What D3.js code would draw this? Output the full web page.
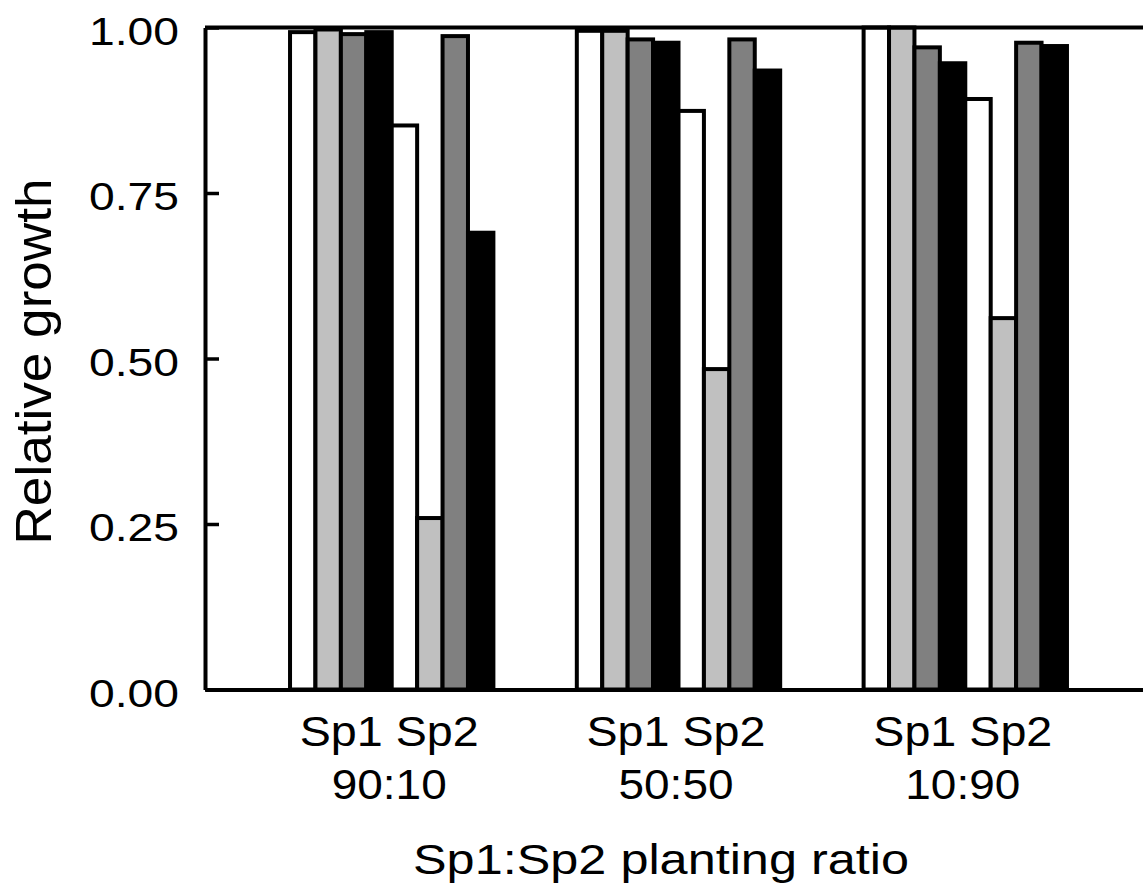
<!DOCTYPE html>
<html>
<head>
<meta charset="utf-8">
<script src="https://cdn.jsdelivr.net/npm/d3@7"></script>
<style>
  body { margin: 0; background: #fff; }
  text { font-family: "Liberation Sans", Arial, sans-serif; fill: #000; }
</style>
</head>
<body>
<svg id="barChart"></svg>
<script>
// Relative growth by planting ratio - grouped bars, 4 treatments per species

const ratioLabels = ["90:10", "50:50", "10:90"];
const speciesLabels = ["Sp1", "Sp2"];
// one row per ratio, 4 treatments per species
const sp1Growth = [
    [0.993, 0.997, 0.990, 0.993],
    [0.995, 0.995, 0.982, 0.977],
    [1.000, 1.000, 0.970, 0.946]
];
const sp2Growth = [
    [0.852, 0.259, 0.987, 0.690],
    [0.874, 0.484, 0.982, 0.935],
    [0.892, 0.561, 0.977, 0.972]
];
const yTicks = [0, 0.25, 0.5, 0.75, 1];

const treatmentFills = ["#ffffff", "#c0c0c0", "#808080", "#000000"];

const width = 1143;
const height = 894;

const svg = d3.select("#barChart")
    .attr("width", width)
    .attr("height", height);

const yAxis = d3.scaleLinear()
    .domain([0, 1])
    .range([689.5, 27.5]);

const xGroup = d3.scaleBand()
    .domain(ratioLabels)
    .range([205, 1152])
    .paddingInner(0.2909)
    .paddingOuter(0.2965);

const xBar = d3.scaleBand()
    .domain(d3.range(8))
    .range([0, xGroup.bandwidth()])
    .padding(0);

// flatten to one record per bar
const bars = [];
ratioLabels.forEach((r, i) => {
    sp1Growth[i].forEach((v, t) => bars.push({ratio: r, idx: t, treatment: t, value: v}));
    sp2Growth[i].forEach((v, t) => bars.push({ratio: r, idx: 4 + t, treatment: t, value: v}));
});

svg.append("g")
    .selectAll("rect")
    .data(bars)
    .join("rect")
        .attr("x", d => xGroup(d.ratio) + xBar(d.idx))
        .attr("y", d => yAxis(d.value))
        .attr("width", xBar.bandwidth())
        .attr("height", d => yAxis(0) - yAxis(d.value))
        .style("fill", d => treatmentFills[d.treatment])
        .style("stroke", "#000")
        .style("stroke-width", 4);

// top border
svg.append("line")
    .attr("x1", 205)
    .attr("x2", width)
    .attr("y1", yAxis(1))
    .attr("y2", yAxis(1))
    .style("stroke", "#000")
    .style("stroke-width", 4);

// y axis, ticks pointing inward
const yG = svg.append("g")
    .attr("transform", "translate(205,0)")
    .call(d3.axisLeft(yAxis)
        .tickValues(yTicks)
        .tickFormat(d3.format(".2f"))
        .tickSizeInner(-14)
        .tickSizeOuter(0)
        .tickPadding(26));
yG.select(".domain").style("stroke-width", 4);
yG.selectAll(".tick line").style("stroke-width", 3.5);
yG.selectAll(".tick text")
    .attr("dy", 16.5)
    .attr("textLength", 90)
    .attr("lengthAdjust", "spacingAndGlyphs")
    .style("font-size", "38px")
    .style("font-family", "Liberation Sans, Arial, sans-serif");

// x axis with two-line group labels
const xG = svg.append("g")
    .attr("transform", "translate(0," + yAxis(0) + ")")
    .call(d3.axisBottom(xGroup).tickSize(0).tickSizeOuter(0));
xG.select(".domain").style("stroke-width", 4);
xG.selectAll(".tick text").remove();
xG.selectAll(".tick").append("text")
    .attr("x", -2.5)
    .attr("y", 746 - yAxis(0))
    .attr("text-anchor", "middle")
    .attr("textLength", 179)
    .attr("lengthAdjust", "spacingAndGlyphs")
    .style("font-size", "43px")
    .style("font-family", "Liberation Sans, Arial, sans-serif")
    .text(speciesLabels.join(" "));
xG.selectAll(".tick").append("text")
    .attr("x", -2.5)
    .attr("y", 799 - yAxis(0))
    .attr("text-anchor", "middle")
    .attr("textLength", 115)
    .attr("lengthAdjust", "spacingAndGlyphs")
    .style("font-size", "43px")
    .style("font-family", "Liberation Sans, Arial, sans-serif")
    .text(d => d);

// X-Label
svg.append("text")
    .attr("x", 661)
    .attr("y", 874)
    .attr("text-anchor", "middle")
    .attr("textLength", 496)
    .attr("lengthAdjust", "spacingAndGlyphs")
    .style("font-size", "43px")
    .text("Sp1:Sp2 planting ratio");

// Y-Label
svg.append("text")
    .attr("transform", "translate(51,361.5)rotate(-90)")
    .attr("text-anchor", "middle")
    .attr("textLength", 366)
    .attr("lengthAdjust", "spacingAndGlyphs")
    .style("font-size", "50px")
    .text("Relative growth");
</script>
</body>
</html>
